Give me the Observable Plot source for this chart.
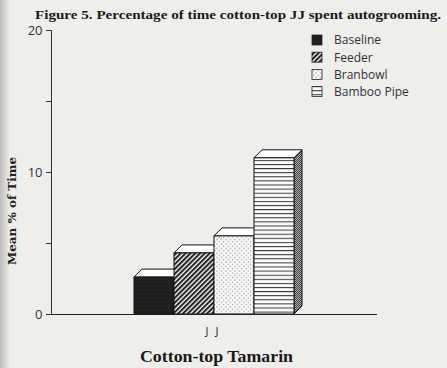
<!DOCTYPE html>
<html><head><meta charset="utf-8">
<script src="https://cdn.jsdelivr.net/npm/d3@7"></script>
<script src="https://cdn.jsdelivr.net/npm/@observablehq/plot@0.6"></script>
<style>
html,body{margin:0;padding:0;background:#eeeeeb;}
</style></head><body><div id="chart"></div>
<script>
const conditions = ["Baseline", "Feeder", "Branbowl", "Bamboo Pipe"];
const values = [2.6, 4.3, 5.5, 11.0];
const patterns = ["solid", "hatch", "dots", "lines"];
const yTicks = [0, 5, 10, 15, 20];
const yTickLabels = {0: "0", 10: "10", 20: "20"};
const groupLabel = "J J";
const title = "Figure 5. Percentage of time cotton-top JJ spent autogrooming.";
const xTitle = "Cotton-top Tamarin";
const yTitle = "Mean % of Time";

const data = conditions.map((c, i) => ({cond: c, value: values[i], fill: `url(#pat-${patterns[i]})`}));
const DEPTH = 8;

function box3d(index, scales, vals, dim) {
  const g = d3.create("svg:g");
  const x = scales.x, y = scales.y;
  const bw = x.bandwidth ? x.bandwidth() : (x(conditions[1]) - x(conditions[0]));
  data.forEach(d => {
    const x1 = x(d.cond), x2 = x1 + bw, yt = y(d.value), y0 = y(0);
    g.append("path")
      .attr("d", `M${x2},${y0}L${x2},${yt}L${x2 + DEPTH},${yt - DEPTH}L${x2 + DEPTH},${y0 - DEPTH}Z`)
      .attr("fill", "url(#pat-side)").attr("stroke", "#111");
    g.append("path")
      .attr("d", `M${x1},${yt}L${x1 + DEPTH},${yt - DEPTH}L${x2 + DEPTH},${yt - DEPTH}L${x2},${yt}Z`)
      .attr("fill", "#fff").attr("stroke", "#111");
  });
  return g.node();
}

function annotations(index, scales, vals, dim) {
  const g = d3.create("svg:g").attr("text-anchor", "start");
  const {width, height, marginLeft, marginRight, marginTop, marginBottom} = dim;
  const cx = (marginLeft + width - marginRight) / 2;
  g.append("rect").attr("x", 0).attr("y", 0).attr("width", 10).attr("height", height).attr("fill", "url(#edge)");
  g.append("text").text(title)
    .attr("x", 238).attr("y", 19).attr("text-anchor", "middle")
    .attr("font-family", "Liberation Serif").attr("font-weight", "bold").attr("font-size", 12.5)
    .attr("fill", "#1a1a1a")
    .attr("textLength", 406).attr("lengthAdjust", "spacingAndGlyphs");
  g.append("text").text(yTitle)
    .attr("transform", `translate(16,211) rotate(-90)`).attr("text-anchor", "middle")
    .attr("font-family", "DejaVu Serif").attr("font-weight", "bold").attr("font-size", 11.5)
    .attr("fill", "#222")
    .attr("textLength", 108).attr("lengthAdjust", "spacingAndGlyphs");
  g.append("text").text(groupLabel)
    .attr("x", cx - 1).attr("y", height - marginBottom + 21).attr("text-anchor", "middle")
    .attr("font-family", "Open Sans").attr("font-size", 11).attr("letter-spacing", 2).attr("fill", "#1a1a1a");
  g.append("text").text(xTitle)
    .attr("x", cx + 2.5).attr("y", height - 6).attr("text-anchor", "middle")
    .attr("font-family", "Liberation Serif").attr("font-weight", "bold").attr("font-size", 17)
    .attr("fill", "#1a1a1a")
    .attr("textLength", 153).attr("lengthAdjust", "spacingAndGlyphs");
  const lx = width - 135, ly = 40, step = 17.2;
  conditions.forEach((c, i) => {
    g.append("rect").attr("x", lx).attr("y", ly + i * step - 5).attr("width", 10).attr("height", 10)
      .attr("fill", `url(#pat-${patterns[i]})`).attr("stroke", "#222").attr("stroke-width", 0.8);
    g.append("text").text(c).attr("x", lx + 22).attr("y", ly + i * step + 4.3).attr("text-anchor", "start")
      .attr("font-family", "Open Sans").attr("font-size", 12).attr("fill", "#333");
  });
  return g.node();
}

const plot = Plot.plot({
  width: 447, height: 368,
  marginTop: 30, marginLeft: 51, marginRight: 70, marginBottom: 54,
  style: {background: "#eeeeeb", fontFamily: "Open Sans", fontSize: "13px", color: "#333"},
  x: {domain: conditions, paddingInner: 0, paddingOuter: 2, axis: null},
  y: {domain: [0, 20], ticks: yTicks, tickFormat: d => yTickLabels[d] ?? "", tickSize: 5, tickPadding: 4, label: null, line: true},
  color: {type: "identity"},
  marks: [
    box3d,
    Plot.barY(data, {x: "cond", y: "value", fill: "fill", stroke: "#111", strokeWidth: 1}),
    Plot.ruleY([0], {stroke: "#222"}),
    annotations
  ]
});

const defs = `
<linearGradient id="edge" x1="0" x2="1" y1="0" y2="0"><stop offset="0" stop-color="#bdbdbb"/><stop offset="1" stop-color="#eeeeeb"/></linearGradient>
<pattern id="pat-solid" width="4" height="4" patternUnits="userSpaceOnUse"><rect width="4" height="4" fill="#1e1e1e"/><rect x="1" y="2" width="1" height="1" fill="#333"/></pattern>
<pattern id="pat-hatch" width="3.4" height="3.4" patternUnits="userSpaceOnUse" patternTransform="rotate(45)"><rect width="3.4" height="3.4" fill="#f4f4f4"/><rect width="2" height="3.4" fill="#222"/></pattern>
<pattern id="pat-dots" width="4.5" height="4.5" patternUnits="userSpaceOnUse"><rect width="4.5" height="4.5" fill="#f8f8f8"/><rect x="0.5" y="0.5" width="1" height="1" fill="#666"/><rect x="2.75" y="2.75" width="1" height="1" fill="#777"/></pattern>
<pattern id="pat-lines" width="4" height="4.1" patternUnits="userSpaceOnUse"><rect width="4" height="4.1" fill="#fbfbfb"/><rect y="0" width="4" height="1" fill="#333"/></pattern>
<pattern id="pat-side" width="2" height="2" patternUnits="userSpaceOnUse"><rect width="2" height="2" fill="#b4b4b4"/><rect width="1" height="1" fill="#3a3a3a"/><rect x="1" y="1" width="1" height="1" fill="#3a3a3a"/></pattern>`;
d3.select(plot).insert("defs", ":first-child").html(defs);
document.getElementById("chart").appendChild(plot);
</script>
</body></html>
